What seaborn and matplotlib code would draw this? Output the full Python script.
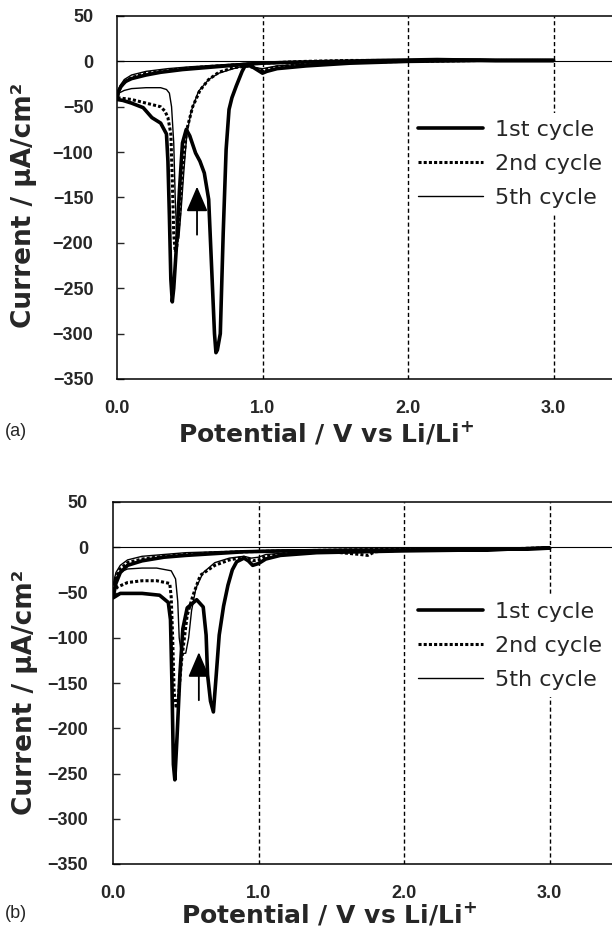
import numpy as np
import pandas as pd
import seaborn as sns
import matplotlib.pyplot as plt

# Cyclic voltammograms, points listed in scan order: 3.0 V -> 0.0 V -> 3.0 V
# (a)
a1_v = [3.0, 2.5, 2.0, 1.6, 1.3, 1.1, 1.03, 1.0, 0.96, 0.92, 0.88, 0.86, 0.82, 0.79, 0.77, 0.75,
        0.73, 0.71, 0.69, 0.68, 0.67, 0.65, 0.63, 0.60, 0.57, 0.54, 0.50, 0.476, 0.45, 0.43, 0.41,
        0.39, 0.38, 0.37, 0.36, 0.35, 0.34, 0.30, 0.24, 0.18, 0.10, 0.04, 0.0,
        0.01, 0.03, 0.06, 0.10, 0.20, 0.30, 0.45, 0.60, 0.75, 0.90, 1.0, 1.2, 1.5, 1.8, 2.2, 2.6, 3.0]
a1_i = [1, 1, 0, -2, -5, -8, -11, -13, -9, -5, -5, -11, -27, -40, -53, -97,
        -189, -300, -318, -321, -300, -226, -152, -123, -110, -101, -82, -75, -90, -140, -200,
        -250, -265, -240, -170, -110, -80, -68, -62, -51, -46, -43, -42,
        -33, -27, -22, -19, -15, -12, -9, -7, -5, -3, -2, -1, 0, 1, 2, 1, 1]

a2_v = [3.0, 2.5, 2.0, 1.6, 1.3, 1.1, 1.0, 0.96, 0.9, 0.8, 0.7, 0.63, 0.57, 0.52, 0.48, 0.45,
        0.43, 0.41, 0.40, 0.39, 0.38, 0.37, 0.35, 0.33, 0.30, 0.20, 0.10, 0.0,
        0.02, 0.05, 0.10, 0.20, 0.30, 0.45, 0.60, 0.80, 1.0, 1.3, 1.6, 2.0, 2.5, 3.0]
a2_i = [1, 1, 0, -1, -3, -6, -10, -8, -5, -7, -12, -20, -32, -50, -75, -120,
        -170, -205, -210, -190, -130, -80, -62, -55, -50, -46, -42, -40,
        -30, -23, -18, -13, -11, -8, -6, -4, -2, 0, 1, 1, 1, 1]

a5_v = [3.0, 2.5, 2.0, 1.6, 1.3, 1.1, 1.0, 0.95, 0.9, 0.8, 0.7, 0.63, 0.56, 0.51, 0.48, 0.46,
        0.44, 0.425, 0.41, 0.40, 0.39, 0.375, 0.36, 0.34, 0.30, 0.20, 0.10, 0.05, 0.0,
        0.02, 0.05, 0.10, 0.20, 0.35, 0.50, 0.70, 0.90, 1.1, 1.4, 1.8, 2.4, 3.0]
a5_i = [1, 1, 0, -1, -3, -5, -8, -7, -4, -8, -13, -20, -33, -55, -80, -120,
        -165, -195, -190, -150, -90, -50, -35, -31, -29, -29, -30, -32, -36,
        -27, -20, -15, -11, -8, -6, -4, -2, -1, 0, 1, 1, 1]

# (b)
b1_v = [3.0, 2.5, 2.0, 1.7, 1.4, 1.15, 1.05, 1.0, 0.96, 0.93, 0.9, 0.85, 0.82, 0.79, 0.76, 0.73,
        0.71, 0.69, 0.67, 0.65, 0.64, 0.62, 0.575, 0.51, 0.48, 0.46, 0.44, 0.425, 0.415, 0.405,
        0.395, 0.38, 0.32, 0.20, 0.05, 0.0,
        0.02, 0.05, 0.10, 0.20, 0.35, 0.50, 0.70, 0.90, 1.2, 1.6, 2.0, 2.5, 3.0]
b1_i = [-1, -3, -4, -5, -6, -9, -13, -18, -20, -15, -12, -16, -25, -42, -65, -97,
        -140, -182, -170, -141, -97, -66, -58, -67, -90, -140, -210, -257, -240, -150,
        -80, -61, -53, -51, -51, -56,
        -40, -28, -20, -15, -11, -9, -7, -5, -4, -4, -3, -3, -1]

b2_v = [3.0, 2.5, 2.0, 1.8, 1.75, 1.7, 1.5, 1.2, 1.05, 1.0, 0.96, 0.9, 0.8, 0.7, 0.6, 0.55,
        0.51, 0.47, 0.45, 0.435, 0.42, 0.41, 0.40, 0.39, 0.30, 0.20, 0.10, 0.03, 0.0,
        0.02, 0.05, 0.10, 0.20, 0.35, 0.50, 0.70, 0.90, 1.2, 1.6, 2.0, 2.5, 3.0]
b2_i = [-1, -2, -3, -5, -9, -8, -5, -7, -10, -14, -15, -11, -14, -20, -31, -53,
        -75, -127, -165, -178, -160, -100, -55, -40, -37, -37, -39, -44, -50,
        -33, -24, -17, -13, -10, -8, -6, -5, -4, -3, -2, -2, -1]

b5_v = [3.0, 2.5, 2.0, 1.7, 1.3, 1.05, 1.0, 0.95, 0.9, 0.8, 0.7, 0.62, 0.57, 0.54, 0.52, 0.50,
        0.47, 0.455, 0.445, 0.43, 0.40, 0.30, 0.20, 0.10, 0.04, 0.0,
        0.02, 0.05, 0.10, 0.20, 0.35, 0.50, 0.70, 0.90, 1.2, 1.6, 2.0, 2.5, 3.0]
b5_i = [-1, -2, -3, -4, -5, -8, -11, -12, -10, -12, -17, -28, -45, -70, -100, -117,
        -118, -100, -60, -35, -26, -23, -23, -24, -28, -42,
        -28, -20, -14, -10, -8, -6, -5, -4, -3, -2, -2, -1, -1]

cycle_names = ['1st cycle', '2nd cycle', '5th cycle']
x_ticks = [0.0, 1.0, 2.0, 3.0]
x_tick_labels = ['0.0', '1.0', '2.0', '3.0']
y_ticks = [-350, -300, -250, -200, -150, -100, -50, 0, 50]
guide_v = [1.0, 2.0, 3.0]
# arrows: potential, tail current, head current
arrow_a = [0.55, -191, -138]
arrow_b = [0.59, -169, -116]

panels = [
    ('(a)', [(a1_v, a1_i), (a2_v, a2_i), (a5_v, a5_i)], arrow_a),
    ('(b)', [(b1_v, b1_i), (b2_v, b2_i), (b5_v, b5_i)], arrow_b),
]

sns.set_style('ticks')
plt.rcParams['font.family'] = ['DejaVu Sans']
plt.rcParams['axes.linewidth'] = 1.1

line_kw = {
    '1st cycle': dict(linewidth=2.6, linestyle='-'),
    '2nd cycle': dict(linewidth=2.2, linestyle=(0, (1, 0.7))),
    '5th cycle': dict(linewidth=1.0, linestyle='-'),
}

fig = plt.figure(figsize=(6.12, 9.31), dpi=100)
W, H = 612, 931

# layout in pixels: left, axes bottom, axes top, px per volt, legend box left/top, label offsets
layout = [
    dict(left=117, bottom=379, top=16, ppv=145.5, leg=(411, 113), xpad=15, ypad=17,
         xlab=(0.41, -0.112), ylab=(-0.158, 0.479), tag_y=432),
    dict(left=113, bottom=864, top=502, ppv=145.5, leg=(411, 595), xpad=15, ypad=18,
         xlab=(0.425, -0.1), ylab=(-0.148, 0.475), tag_y=914),
]

for (tag, curves, arr), lay in zip(panels, layout):
    ax = fig.add_axes([lay['left'] / W, 1 - lay['bottom'] / H,
                       3.5 * lay['ppv'] / W, (lay['bottom'] - lay['top']) / H])

    ax.axhline(0, color='black', lw=0.8, zorder=1)
    for v in guide_v:
        ax.axvline(v, color='black', lw=1.0, ls=(0, (3, 2)), zorder=1)

    handles = {}
    for name, (v, i) in reversed(list(zip(cycle_names, curves))):
        df = pd.DataFrame({'potential': v, 'current': i})
        sns.lineplot(data=df, x='potential', y='current', sort=False, estimator=None,
                     color='black', ax=ax, zorder=3, **line_kw[name])
        handles[name] = ax.lines[-1]

    ax.annotate('', xy=(arr[0], arr[2]), xytext=(arr[0], arr[1]),
                arrowprops=dict(arrowstyle='-|>,head_length=0.7,head_width=0.3',
                                color='black', lw=1.3, shrinkA=0, shrinkB=0,
                                mutation_scale=22), zorder=4)

    ax.set_xlim(0, 3.5)
    ax.set_ylim(-350, 50)
    ax.set_xticks(x_ticks)
    ax.set_xticklabels(x_tick_labels)
    ax.set_yticks(y_ticks)
    ax.tick_params(axis='x', length=0, pad=lay['xpad'], labelsize=13,
                   labelfontfamily='Liberation Sans')
    ax.tick_params(axis='y', direction='in', length=5, width=1, pad=lay['ypad'],
                   labelsize=13, labelfontfamily='Liberation Sans')
    plt.setp(ax.get_xticklabels() + ax.get_yticklabels(), fontweight='bold')

    ax.set_xlabel('Potential / V vs Li/Li$^{\\mathbf{+}}$', fontsize=18, fontweight='bold')
    ax.set_ylabel('Current / μA/cm²', fontsize=19, fontweight='bold')
    ax.xaxis.set_label_coords(*lay['xlab'])
    ax.yaxis.set_label_coords(*lay['ylab'])

    for s in ['top', 'right', 'bottom', 'left']:
        ax.spines[s].set_visible(True)
        ax.spines[s].set_color('black')

    leg = ax.legend([handles[n] for n in cycle_names], cycle_names, loc='upper left',
                    bbox_to_anchor=(lay['leg'][0] / W, 1 - lay['leg'][1] / H),
                    bbox_transform=fig.transFigure, frameon=True, fancybox=False,
                    edgecolor='none', facecolor='white', framealpha=1, fontsize=16,
                    handlelength=2.93, handletextpad=0.54, labelspacing=0.64,
                    borderpad=0.3, borderaxespad=0)
    leg.set_zorder(5)

    fig.text(5 / W, 1 - lay['tag_y'] / H, tag, fontsize=13, family='Liberation Sans',
             ha='left', va='center')

fig.savefig('out.png', dpi=100)
